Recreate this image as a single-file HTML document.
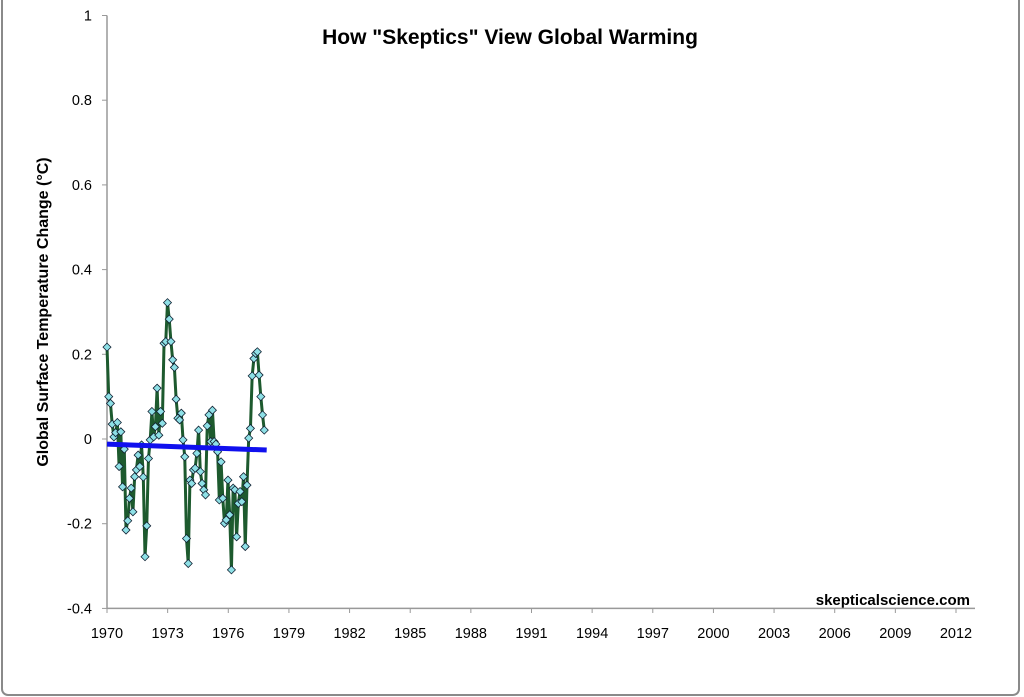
<!DOCTYPE html>
<html><head><meta charset="utf-8"><style>
html,body{margin:0;padding:0;background:#fff;}
svg{display:block;font-family:"Liberation Sans",sans-serif;}
</style></head><body>
<svg id="chart" width="1024" height="697">
<rect x="2" y="-10" width="1017" height="705" rx="6" fill="#fff" stroke="#8a8a8a" stroke-width="2"/>
<text x="510" y="44" text-anchor="middle" font-size="21" font-weight="bold" fill="#000">How "Skeptics" View Global Warming</text>
<text transform="translate(48,312) rotate(-90)" text-anchor="middle" font-size="16" font-weight="bold">Global Surface Temperature Change (°C)</text>
<text x="970" y="605" text-anchor="end" font-size="15" font-weight="bold">skepticalscience.com</text>
<g id="axes"></g>
<g id="marks"></g>
</svg>
<script>
const yTicks=[1,0.8,0.6,0.4,0.2,0,-0.2,-0.4];
const yTickLabels=["1","0.8","0.6","0.4","0.2","0","-0.2","-0.4"];
const xTicks=[1970,1973,1976,1979,1982,1985,1988,1991,1994,1997,2000,2003,2006,2009,2012];
const startYear=1970;
const endYear=1977.78;
const temps=[0.217,0.10,0.084,0.035,0.005,0.015,0.039,-0.065,0.017,-0.113,-0.024,-0.215,-0.193,-0.14,-0.116,-0.172,-0.089,-0.073,-0.038,-0.065,-0.014,-0.09,-0.278,-0.205,-0.046,-0.002,0.065,0.005,0.029,0.12,0.009,0.065,0.037,0.226,0.23,0.322,0.283,0.23,0.187,0.169,0.094,0.049,0.045,0.061,-0.002,-0.042,-0.235,-0.294,-0.097,-0.105,-0.073,-0.069,-0.034,0.021,-0.077,-0.105,-0.12,-0.132,0.031,0.057,-0.006,0.068,-0.006,-0.012,-0.03,-0.144,-0.054,-0.14,-0.199,-0.191,-0.097,-0.179,-0.309,-0.116,-0.12,-0.231,-0.152,-0.124,-0.148,-0.089,-0.254,-0.109,0.002,0.025,0.149,0.19,0.202,0.206,0.151,0.1,0.057,0.021];
const trendYears=[1970,1977.9];
const trendValues=[-0.012,-0.026];

const X=y=>107+(y-1970)*(956-107)/42;
const Y=v=>439-v*423.5;
const NS="http://www.w3.org/2000/svg";
function mk(t,a,p){const e=document.createElementNS(NS,t);for(const k in a)e.setAttribute(k,a[k]);p.appendChild(e);return e;}
const ax=document.getElementById('axes'),mg=document.getElementById('marks');
let l=mk('line',{x1:107,y1:Y(1),x2:107,y2:Y(-0.4),stroke:'#999','stroke-width':1.5},ax);


l=mk('line',{x1:107,y1:Y(-0.4),x2:975,y2:Y(-0.4),stroke:'#999','stroke-width':1.5},ax);


yTicks.forEach((v,i)=>{
 const t=mk('line',{x1:102,y1:Y(v),x2:107,y2:Y(v),stroke:'#999'},ax);
 
 
 const tx=mk('text',{x:92,y:Y(v)+5,'text-anchor':'end','font-size':14.5},ax);tx.textContent=yTickLabels[i];
 
 
});
xTicks.forEach(y=>{
 const t=mk('line',{x1:X(y),y1:608,x2:X(y),y2:613,stroke:'#999'},ax);
 
 
 const tx=mk('text',{x:X(y),y:638,'text-anchor':'middle','font-size':14.5},ax);tx.textContent=y;
 
 
});
const step=(endYear-startYear)/(temps.length-1);
const pts=temps.map((v,i)=>[X(startYear+i*step),Y(v)]);
const pl=mk('polyline',{points:pts.map(p=>p.join(',')).join(' '),fill:'none',stroke:'#1d5a2e','stroke-width':3,'stroke-linejoin':'round'},mg);


pts.forEach(p=>{
 const d=mk('polygon',{points:`${p[0]},${p[1]-4} ${p[0]+4},${p[1]} ${p[0]},${p[1]+4} ${p[0]-4},${p[1]}`,fill:'#8ee0e6',stroke:'#123','stroke-width':0.8},mg);
 
 
});
const tr=mk('line',{x1:X(trendYears[0]),y1:Y(trendValues[0]),x2:X(trendYears[1]),y2:Y(trendValues[1]),stroke:'#1010ee','stroke-width':5},mg);


</script>
</body></html>
